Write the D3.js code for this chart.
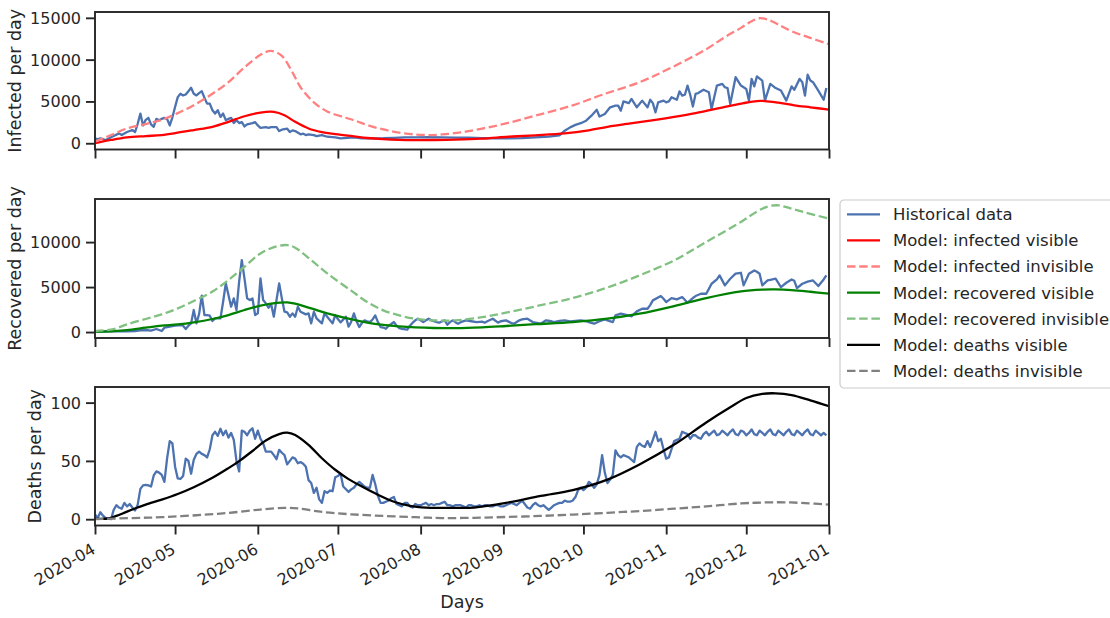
<!DOCTYPE html>
<html lang="en">
<head>
<meta charset="utf-8">
<script src="https://cdnjs.cloudflare.com/ajax/libs/d3/7.8.5/d3.min.js"></script>
<style>
body { margin: 0; background: #fff; }
svg, svg text { font-family: "DejaVu Sans", sans-serif; }
.tick text { fill: #262626; font-size: 16px; font-family: "DejaVu Sans", sans-serif; }
.tick line { stroke: #262626; stroke-width: 1.9; }
.spine { fill: none; stroke: #262626; stroke-width: 1.9; }
.lbl { fill: #262626; font-size: 17.5px; }
.series { fill: none; stroke-width: 2.3; stroke-linejoin: round; }
.dashed { stroke-dasharray: 8.5 3.7; }
</style>
</head>
<body>
<svg id="chart" width="1110" height="618"></svg>
<script>
// [day offset from 2020-04-01, value]
var infectedHist = [[0,590],[1,470],[2,590],[4,390],[6,710],[7,860],[9,1180],[10,980],[12,1340],[14,1580],[15,1340],[16,2330],[17,3550],[18,2130],[19,2800],[20,3040],[21,2260],[22,1970],[23,2920],[24,2760],[25,2920],[26,3040],[27,2920],[28,2130],[29,3100],[30,4330],[31,5520],[32,5920],[33,5720],[34,5830],[35,6230],[36,6630],[37,5920],[38,5720],[39,6000],[40,6230],[41,5440],[42,4740],[43,4740],[44,3950],[45,3550],[46,3950],[47,3150],[48,3550],[49,2760],[50,2920],[51,3040],[52,2410],[53,2760],[54,2410],[55,2530],[56,2010],[57,2260],[59,2410],[60,2530],[61,2130],[62,1850],[64,1930],[65,1850],[66,1930],[68,1930],[69,1460],[70,1620],[72,1740],[73,1340],[74,1540],[75,1460],[77,1070],[78,1140],[79,980],[80,1070],[82,980],[83,860],[85,980],[87,780],[90,710],[92,590],[97,710],[100,600],[104,580],[108,600],[112,650],[116,700],[120,700],[125,720],[130,700],[135,680],[140,660],[145,620],[150,600],[155,580],[160,620],[165,700],[170,800],[174,950],[176,1500],[178,1900],[180,2200],[182,2400],[184,2700],[186,3300],[188,4000],[189,3200],[191,3500],[193,4300],[195,4500],[196,4500],[197,3900],[198,5000],[200,4800],[201,5300],[202,4800],[203,4300],[205,5100],[207,4300],[208,5200],[209,4800],[210,3700],[211,4900],[213,5100],[214,4900],[215,5000],[216,5500],[218,5200],[219,6200],[220,5700],[221,5800],[222,6900],[223,5800],[224,4400],[225,5900],[226,6000],[228,6400],[230,6100],[231,4100],[233,6900],[235,7100],[236,6700],[237,6600],[238,4700],[240,7900],[242,6900],[244,6500],[245,5100],[246,7700],[247,6800],[248,8000],[250,7500],[251,5100],[253,7100],[255,6600],[257,6300],[259,5100],[261,6800],[262,6400],[264,7700],[265,7300],[266,5700],[267,8200],[268,7500],[269,7300],[271,6300],[273,5200],[274,6600]];
var infectedVisible = [[0,0],[6,390],[12,700],[19,860],[25,980],[31,1260],[37,1580],[44,1970],[50,2560],[56,3230],[62,3670],[67,3750],[71,3350],[75,2560],[80,1770],[85,1340],[90,1100],[97,820],[102,630],[108,490],[114,410],[120,380],[127,390],[135,430],[145,550],[155,780],[165,950],[176,1180],[185,1550],[192,1960],[200,2350],[210,2800],[217,3150],[225,3600],[236,4340],[243,4800],[248,5050],[251,5050],[256,4850],[262,4540],[268,4300],[275,4030]];
var infectedInvisible = [[0,200],[6,980],[12,1770],[19,2300],[25,2800],[31,3600],[37,4550],[44,5920],[50,7300],[56,9070],[62,10570],[66,11050],[70,10450],[74,8480],[77,6700],[82,4900],[87,3800],[94,3050],[98,2650],[102,2170],[108,1650],[114,1270],[120,1050],[125,980],[130,1050],[137,1300],[145,1750],[154,2370],[165,3300],[179,4540],[190,5800],[204,7300],[215,8900],[229,11250],[236,12700],[242,13800],[246,14600],[249,14950],[252,14800],[256,14200],[261,13400],[268,12600],[275,11850]];

var recoveredHist = [[0,44],[3,60],[6,80],[9,100],[12,90],[15,115],[17,200],[19,226],[21,150],[23,337],[25,115],[26,485],[28,596],[30,707],[32,781],[33,707],[34,337],[35,707],[36,966],[37,2448],[38,966],[39,2000],[40,4041],[41,1892],[42,1892],[43,1819],[44,1226],[45,1522],[47,1522],[48,3374],[49,5411],[50,4114],[51,2819],[52,3744],[53,2448],[54,5596],[55,8003],[56,5966],[57,3744],[58,3559],[59,3744],[60,1892],[61,2078],[62,5966],[63,3559],[64,3189],[65,2707],[66,3078],[67,1707],[69,5411],[70,3744],[71,2263],[72,2189],[73,1707],[74,2078],[75,1707],[76,2819],[77,2263],[79,1967],[80,2078],[81,966],[82,2263],[83,1522],[85,966],[86,2078],[87,1707],[89,966],[90,1892],[91,1448],[92,1078],[94,1707],[95,600],[96,1152],[97,2078],[98,1200],[99,560],[100,1000],[101,1300],[102,1200],[103,1110],[104,1400],[105,1850],[106,1100],[107,560],[108,500],[109,370],[110,700],[111,900],[112,1110],[113,700],[114,440],[115,350],[117,260],[118,700],[119,1040],[120,1300],[121,1480],[122,1300],[123,1110],[124,1300],[125,1480],[126,1300],[127,1200],[128,1100],[129,1040],[130,1190],[131,1300],[132,820],[133,1100],[134,1300],[135,1100],[136,930],[137,1100],[139,1300],[141,1200],[143,1110],[145,1150],[146,1040],[147,1200],[149,1480],[151,1040],[152,1200],[154,1300],[156,1000],[157,930],[159,1300],[160,1400],[162,1480],[164,1110],[166,1000],[167,930],[169,1300],[171,1200],[172,1110],[174,1250],[176,1300],[178,1190],[180,1250],[182,1300],[184,1200],[185,1110],[187,930],[189,1200],[191,1410],[192,1300],[194,1110],[195,1850],[197,2040],[199,1920],[201,1740],[203,2300],[205,2590],[207,2590],[208,3000],[209,3520],[212,4000],[213,3700],[214,3330],[216,3780],[218,3630],[220,3890],[222,3260],[224,3780],[225,4000],[227,4260],[229,4260],[230,4800],[231,5370],[233,5850],[234,6300],[236,5190],[238,5930],[240,6500],[242,6590],[243,5190],[245,6480],[247,6850],[248,6700],[249,6480],[250,5190],[252,5740],[253,5800],[255,5930],[257,5000],[259,5480],[261,5850],[262,5700],[263,4890],[265,5370],[267,5600],[269,5740],[271,5110],[273,5850],[274,6300]];
var recoveredVisible = [[0,40],[7,110],[12,220],[19,490],[25,710],[31,850],[37,1080],[44,1450],[50,1890],[56,2450],[62,2930],[68,3250],[72,3300],[75,3150],[81,2630],[87,2080],[95,1500],[102,1060],[108,800],[114,630],[120,520],[127,450],[135,430],[145,520],[154,670],[165,870],[179,1110],[192,1480],[204,2040],[217,2890],[229,3780],[242,4520],[250,4720],[255,4740],[261,4670],[268,4480],[275,4260]];
var recoveredInvisible = [[0,110],[7,330],[12,850],[19,1450],[25,1970],[31,2630],[37,3450],[44,4500],[50,5780],[56,7260],[62,8740],[68,9520],[72,9670],[75,9380],[81,8000],[87,6520],[96,4600],[102,3330],[108,2410],[114,1850],[120,1480],[127,1300],[135,1300],[145,1650],[154,2150],[165,2850],[179,3780],[192,4950],[204,6300],[217,7970],[229,10020],[242,12240],[248,13400],[252,13950],[256,14090],[260,13800],[266,13300],[275,12610]];

var deathsHist = [[0,4],[1,1],[2,6],[3,3],[4,1],[6,0],[7,8],[8,12],[9,10],[10,9],[11,14],[12,11],[13,13],[14,10],[15,7.5],[16,12.5],[17,26],[18,29],[19,29.5],[20,29],[21,28],[22,37.5],[23,41],[24,40],[25,38],[26,32],[27,52],[28,67],[29,65],[30,45],[31,35],[32,34.5],[33,37],[34,52],[35,50],[36,39],[37,51],[38,56],[39,58],[40,56],[41,55],[42,53],[43,60],[44,72],[45,75],[46,71.5],[47,77.6],[48,72],[49,76],[50,70],[51,74],[52,68],[53,50],[54,41],[55,76],[56,75],[57,72],[58,76],[59,78],[60,69],[61,76],[62,69],[63,65],[64,58],[65,58],[66,58],[67,55],[68,51.5],[69,59.5],[70,57],[71,55],[72,47],[73,50],[74,53],[75,52],[76,48],[77,49],[78,47.6],[79,45],[80,33.5],[81,31],[82,22.6],[83,27],[84,17],[85,14],[86,24],[87,22.6],[88,24.6],[89,24],[90,36],[91,37],[92,39],[93,28],[95,23.4],[96,25.6],[97,27],[98,30],[99,32],[100,30],[101,28],[102,27],[103,27],[104,38],[105,30],[106,20],[107,14],[108,14],[109,15],[110,16],[111,18],[112,19],[113,13],[114,12],[115,11],[116,14],[117,14],[118,11],[119,10],[120,13],[121,12],[122,12],[123,13],[124,14],[125,12],[126,13],[127,12],[128,13],[129,13],[130,14],[131,15],[132,12],[133,12],[134,11],[135,12],[136,12],[137,12],[138,11],[139,10],[140,12],[141,12],[142,11],[143,11],[144,12],[145,11],[146,12],[147,12],[148,11],[149,11],[150,12],[151,12],[152,11],[153,11],[154,12],[155,13],[156,14],[157,13],[158,12],[159,14],[160,16],[161,13],[162,10],[163,9],[164,12],[165,14],[166,12],[167,11],[168,12],[169,10],[170,8],[171,10],[172,12],[173,13],[174,14],[175,14],[176,16],[177,15],[178,15],[179,16],[180,19],[181,25],[182,27],[183,25],[184,27],[185,32],[186,30],[187,27],[188,30],[189,38],[190,55],[191,40],[192,31],[193,34],[194,38],[195,59],[196,55],[197,53],[198,55],[199,54],[200,53],[201,51],[202,49],[203,62],[204,65],[205,63],[206,62],[207,67],[208,62],[209,68],[210,75],[211,67],[212,69],[213,60],[214,52],[215,53],[216,60],[217,67],[218,68],[219,69],[220,75],[221,74],[222,73],[223,69],[224,72],[225,72],[226,70],[227,69],[228,73],[229,75],[230,72],[231,74],[232,76],[233,72],[234,73],[235,76],[236,74],[237,72],[238,75],[239,77],[240,73],[241,72],[242,76],[243,75],[244,72],[245,74],[246,77],[247,73],[248,72],[249,76],[250,74],[251,72],[252,75],[253,77],[254,73],[255,72],[256,76],[257,74],[258,72],[259,75],[260,77],[261,73],[262,72],[263,76],[264,74],[265,72],[266,75],[267,77],[268,73],[269,72],[270,76],[271,74],[272,72],[273,74],[274,72]];
var deathsVisible = [[0,0.3],[5,0.6],[8,2.8],[12,6.5],[16,10],[19,12.5],[25,16.8],[31,21.6],[37,27.4],[44,35.5],[50,43.8],[54,49.8],[59,58.5],[64,67.5],[69,73],[72,74.2],[75,72.2],[80,63.7],[85,52.3],[90,42.4],[95,34.4],[100,28],[106,21],[112,15],[118,11.5],[124,10],[130,9.7],[136,9.7],[142,10],[154,14],[167,20],[179,25],[192,34],[204,47],[217,64],[229,83],[238,96],[244,104],[250,107.5],[255,108],[261,106.5],[268,102],[275,97]];
var deathsInvisible = [[0,0],[14,1],[25,1.7],[38,3.4],[50,5.4],[62,8.3],[71,9.7],[76,9.3],[82,7.2],[88,5.6],[96,4.2],[108,2.8],[120,1.7],[130,1],[142,1.2],[154,1.9],[167,2.8],[179,4],[192,5.5],[204,7],[217,9],[229,11],[242,13.5],[250,14.3],[258,14.5],[266,13.8],[275,12.5]];

var yTicks = [[0,5000,10000,15000],[0,5000,10000],[0,50,100]];
var yLabels = ['Infected per day','Recovered per day','Deaths per day'];
var legendLabels = ['Historical data','Model: infected visible','Model: infected invisible','Model: recovered visible','Model: recovered invisible','Model: deaths visible','Model: deaths invisible'];

var blue = '#4c72b0';
var styles = [
	{c: blue, dash: false},
	{c: '#ff0000', dash: false},
	{c: '#ff8080', dash: true},
	{c: '#008000', dash: false},
	{c: '#80c080', dash: true},
	{c: '#000000', dash: false},
	{c: '#808080', dash: true}
];

var start = new Date(2020, 3, 1), end = new Date(2021, 0, 1);
var toDate = function(d){ return d3.timeDay.offset(start, d); };
var svg = d3.select('#chart');
var left = 95, right = 829;
var x = d3.scaleTime().domain([start, end]).range([left, right]);
var months = d3.timeMonth.range(start, d3.timeDay.offset(end, 1));

var panels = [
	{top: 12, bottom: 149.5, labelX: 21, series: [[infectedHist,0],[infectedVisible,1],[infectedInvisible,2]]},
	{top: 199, bottom: 338, labelX: 21, series: [[recoveredHist,0],[recoveredVisible,3],[recoveredInvisible,4]]},
	{top: 387, bottom: 525.5, labelX: 41, series: [[deathsHist,0],[deathsVisible,5],[deathsInvisible,6]]}
];

panels.forEach(function(p, i){
	// matplotlib-like autoscale: data extent plus 5% margin
	var all = [];
	p.series.forEach(function(s){ s[0].forEach(function(v){ all.push(v[1]); }); });
	var ext = d3.extent(all), pad = (ext[1] - ext[0]) * 0.05;
	var y = d3.scaleLinear().domain([ext[0] - pad, ext[1] + pad]).range([p.bottom, p.top]);
	var g = svg.append('g');

	var clipId = 'clip' + i;
	svg.append('clipPath').attr('id', clipId).append('rect')
		.attr('x', left).attr('y', p.top).attr('width', right - left).attr('height', p.bottom - p.top);

	var line = d3.line()
		.x(function(d){ return x(toDate(d[0])); })
		.y(function(d){ return y(d[1]); });

	p.series.forEach(function(s){
		var st = styles[s[1]];
		line.curve(s[1] === 0 ? d3.curveLinear : d3.curveCatmullRom.alpha(0.5));
		g.append('path')
			.datum(s[0])
			.attr('class', 'series' + (st.dash ? ' dashed' : ''))
			.attr('clip-path', 'url(#' + clipId + ')')
			.attr('stroke', st.c)
			.attr('d', line);
	});

	var yAxis = d3.axisLeft(y).tickValues(yTicks[i]).tickFormat(d3.format('d')).tickSize(9).tickPadding(5);
	var ya = g.append('g').attr('transform', 'translate(' + left + ',0)').call(yAxis);
	ya.attr('font-family', null).attr('font-size', null);
	ya.select('.domain').remove();
	ya.selectAll('text').attr('dy', '0.34em');

	var xAxis = d3.axisBottom(x).tickValues(months).tickSize(9)
		.tickFormat(i === 2 ? d3.timeFormat('%Y-%m') : function(){ return ''; });
	var xa = g.append('g').attr('transform', 'translate(0,' + p.bottom + ')').call(xAxis);
	xa.attr('font-family', null).attr('font-size', null);
	xa.select('.domain').remove();
	if (i === 2) {
		xa.selectAll('text')
			.attr('text-anchor', 'end')
			.attr('dy', null)
			.attr('y', null)
			.attr('transform', 'translate(1,27) rotate(-30)');
	}

	g.append('rect').attr('class', 'spine')
		.attr('x', left).attr('y', p.top).attr('width', right - left).attr('height', p.bottom - p.top);

	g.append('text').attr('class', 'lbl')
		.attr('text-anchor', 'middle')
		.attr('transform', 'translate(' + p.labelX + ',' + ((p.top + p.bottom) / 2) + ') rotate(-90)')
		.text(yLabels[i]);
});

svg.append('text').attr('class', 'lbl').attr('text-anchor', 'middle')
	.attr('x', (left + right) / 2).attr('y', 608).text('Days');

// legend
var lg = svg.append('g').attr('transform', 'translate(840,200)');
lg.append('rect').attr('x', 0).attr('y', 0).attr('width', 290).attr('height', 188)
	.attr('rx', 4).attr('fill', '#fff').attr('fill-opacity', 0.8)
	.attr('stroke', '#cccccc').attr('stroke-width', 1.2);
var rows = lg.selectAll('g.row').data(legendLabels).enter().append('g')
	.attr('transform', function(d, k){ return 'translate(0,' + (14.3 + k * 26.1) + ')'; });
rows.append('line')
	.attr('x1', 7).attr('x2', 40).attr('y1', 0).attr('y2', 0)
	.attr('class', function(d, k){ return 'series' + (styles[k].dash ? ' dashed' : ''); })
	.attr('stroke', function(d, k){ return styles[k].c; });
rows.append('text')
	.attr('x', 53).attr('dy', '0.36em')
	.attr('fill', '#262626').style('font-size', '16.5px')
	.text(function(d){ return d; });
</script>
</body>
</html>
